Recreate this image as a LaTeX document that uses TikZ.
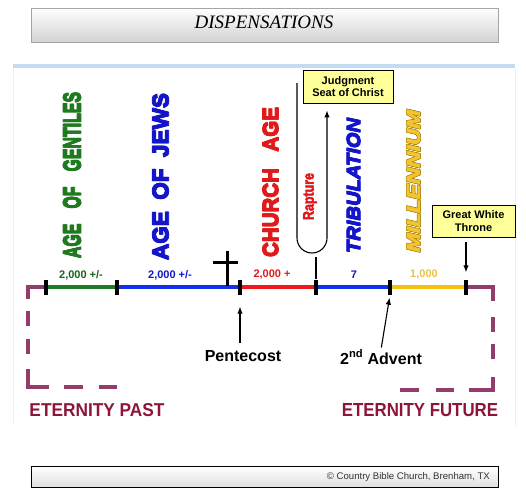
\documentclass[tikz,border=0pt]{standalone}
\usepackage{fontspec}
\setmainfont{Liberation Sans}
\newfontfamily\titlefont{Liberation Serif}
\newfontface\heavyface[FakeBold=3.5]{Liberation Sans Bold}
\newfontface\heavyitface[FakeBold=3]{Liberation Sans Bold Italic}
\usepackage{graphicx}
\usetikzlibrary{arrows.meta,calc}
\definecolor{AgeGreen}{HTML}{1F7A1F}
\definecolor{AgeBlue}{HTML}{1414C8}
\definecolor{AgeRed}{HTML}{E01A1A}
\definecolor{EraGreen}{HTML}{1E7B22}
\definecolor{EraBlue}{HTML}{1030EE}
\definecolor{EraRed}{HTML}{F01818}
\definecolor{EraGold}{HTML}{F5C20F}
\definecolor{YearGold}{HTML}{E8C34A}
\definecolor{MillFill}{HTML}{F4C430}
\definecolor{MillEdge}{HTML}{A88510}
\definecolor{NoteYellow}{HTML}{FFFF99}
\definecolor{EternityPurple}{HTML}{943C6C}
\definecolor{EternityRed}{HTML}{8E1537}
\definecolor{PanelBlue}{HTML}{C5DCF0}

\begin{document}
\begin{tikzpicture}[
  x=1pt,y=-1pt,
  >={Latex[length=7pt,width=5.5pt]},
  tick/.style={fill=black,minimum width=4pt,minimum height=15pt,inner sep=0pt},
  era/.style={line width=3.5pt},
  agelabel/.style={rotate=90,inner sep=0pt,font=\heavyface},
  yearlabel/.style={inner sep=0pt,font=\bfseries\fontsize{11}{12}\selectfont},
  infobox/.style={draw,fill=NoteYellow,line width=0.9pt,align=center,inner sep=2pt,font=\bfseries\fontsize{11}{12.5}\selectfont},
  eventlabel/.style={inner sep=0pt,font=\bfseries\fontsize{16}{17}\selectfont},
  pointer/.style={->,line width=1.1pt},
  eternity/.style={draw=EternityPurple,line width=4pt,line join=miter},
  eternitylabel/.style={inner sep=0pt,text=EternityRed,font=\bfseries}
]
\useasboundingbox (0,0) rectangle (526,496);

% Title and footer bars
\node[draw=gray!70,top color=white,bottom color=gray!35,minimum width=467pt,minimum height=34pt] (titlebar) at (264.5,25) {};
\node[inner sep=0pt,font=\titlefont\itshape\fontsize{19}{19}\selectfont] (title) at (264,22) {DISPENSATIONS};
\node[draw=black,line width=0.8pt,top color=white,bottom color=gray!25,minimum width=467pt,minimum height=21pt] (footer) at (264.5,477) {};
\node[anchor=east,inner sep=0pt,text=black!80,font=\fontsize{9.6}{10}\selectfont] (credit) at (490,477) {\textcopyright\ Country Bible Church, Brenham, TX};

% Panel
\fill[PanelBlue] (13,64) rectangle (515,68);
\draw[gray!12] (13,68) -- (13,425);
\draw[gray!12] (515,68) -- (515,427);

% Time line
\foreach \x [count=\i] in {46,117,240,316,390,466} {
  \coordinate (m\i) at (\x,287);
}
\foreach \a/\b/\c in {1/2/EraGreen,2/3/EraBlue,3/4/EraRed,4/5/EraBlue,5/6/EraGold} {
  \draw[era,\c] (m\a) -- (m\b);
}
\foreach \i in {1,...,6} {
  \node[tick] (t\i) at (m\i) {};
}

% Years
\node[yearlabel,text=AgeGreen!80!black] (yrgentiles) at (81,275) {2,000 +/-};
\node[yearlabel,text=AgeBlue] (yrjews) at (170,275) {2,000 +/-};
\node[yearlabel,text=AgeRed] (yrchurch) at (272,275) {2,000 +};
\node[yearlabel,text=AgeBlue] (yrtrib) at (354,275) {7};
\node[yearlabel,text=YearGold] (yrmill) at (424,275) {1,000};

% Cross
\draw[line width=3pt] (227,251) -- (227,286);
\draw[line width=3pt] (213,262) -- (238,262);

% Ages (drawn twice, shifted, for a heavier face)
\foreach \dx [count=\n] in {-0.5,0.5} {
  \node[agelabel,text=AgeGreen] (gentiles\n) at ({72+\dx},175) {\resizebox{166pt}{17pt}{AGE\hspace{0.95em}OF\hspace{0.95em}GENTILES}};
  \node[agelabel,text=AgeBlue] (jews\n) at ({160.5+\dx},176.5) {\resizebox{167pt}{15.5pt}{AGE\hspace{0.5em}OF\hspace{0.5em}JEWS}};
  \node[agelabel,text=AgeRed] (church\n) at ({270.5+\dx},182) {\resizebox{150pt}{15pt}{CHURCH\hspace{0.8em}AGE}};
  \node[agelabel,text=AgeBlue] (tribulation\n) at ({353.5+\dx},185.5) {\resizebox{135pt}{13pt}{\heavyitface TRIBULATION}};
}
\foreach \dx/\dy [count=\n] in {-0.6/0,0.6/0,0/-0.6,0/0.6,-0.45/-0.45,0.45/0.45,-0.45/0.45,0.45/-0.45} {
  \node[agelabel,text=MillEdge] (milledge\n) at ({413.5+\dx},{181+\dy}) {\resizebox{142pt}{13pt}{\heavyitface MILLENNIUM}};
}
\node[agelabel,text=MillFill] (millennium) at (413.5,181) {\resizebox{142pt}{13pt}{\heavyitface MILLENNIUM}};

% Rapture and judgment seat
\node[infobox,minimum width=90pt,minimum height=33pt] (judgment) at (348,86.5) {Judgment\\Seat of Christ};
\coordinate (raptop) at (297,83);
\draw[pointer] (raptop) -- ++(0,155) arc[start angle=180,end angle=0,radius=15] -- ($(judgment.south)+(-21,7)$);
\node[agelabel,text=AgeRed] (rapture) at (310,196.5) {\resizebox{47pt}{10.5pt}{Rapture}};
\draw[line width=1.1pt] (t4.north) -- ++(0,-22);

% Great white throne
\node[infobox,minimum width=83pt,minimum height=32pt] (throne) at (473.5,221) {Great White\\Throne};
\draw[pointer,shorten <=5pt,shorten >=7pt] (throne.south -| t6) -- (t6.north);

% Events below the line
\node[eventlabel] (pentecost) at (243,356) {Pentecost};
\draw[pointer,shorten <=7pt,shorten >=12pt] (pentecost.north -| t3) -- (t3.south);
\node[eventlabel] (advent) at (381,357) {2\textsuperscript{nd} Advent};
\draw[pointer,shorten <=2pt,shorten >=3pt] (advent.north) -- (t5.south);

% Eternity
\coordinate (pastcorner) at (28,387);
\draw[eternity,dash pattern=on 28pt off 12pt on 15pt off 13pt on 15pt off 15pt on 39pt off 15pt on 19pt off 16pt on 19pt]
  (t1.west) -| (pastcorner) -- (pastcorner -| t2);
\coordinate (futurecorner) at (493,390);
\draw[eternity,dash pattern=on 39pt off 16pt on 15pt off 12pt on 15pt off 18pt on 37pt off 15pt on 18pt off 17pt on 20pt]
  (t6.east) -| (futurecorner) -- ++(-93,0);
\node[eternitylabel] (pastlabel) at (97,410) {\resizebox{135pt}{13pt}{ETERNITY PAST}};
\node[eternitylabel] (futurelabel) at (420,410) {\resizebox{156pt}{13pt}{ETERNITY FUTURE}};

\end{tikzpicture}
\end{document}
